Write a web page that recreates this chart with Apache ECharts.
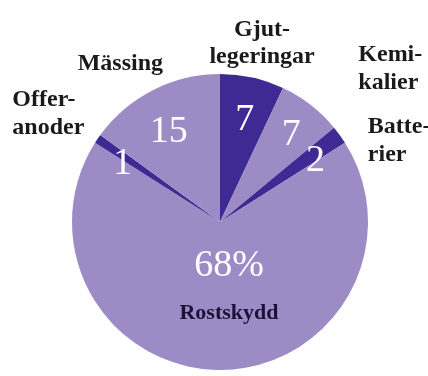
<!DOCTYPE html>
<html>
<head>
<meta charset="utf-8">
<script src="https://cdn.jsdelivr.net/npm/echarts@6/dist/echarts.min.js"></script>
<style>
  html, body { margin: 0; padding: 0; background: #ffffff; }
  #chart { width: 428px; height: 376px; }
</style>
</head>
<body>
<div id="chart"></div>
<script>
// Användning av zink, andel i procent (medurs från kl. 12)
const categories = ['Gjutlegeringar', 'Kemikalier', 'Batterier', 'Rostskydd', 'Offeranoder', 'Mässing'];
const shares = [7, 7, 2, 68, 1, 15];
// Avstavade etiketter utanför cirkeln (Rostskydd står inne i sin sektor)
const nameLabels = ['Gjut-\nlegeringar', 'Kemi-\nkalier', 'Batte-\nrier', '', 'Offer-\nanoder', 'Mässing'];

// Layout & style
const CENTER = [220, 222];
const RADIUS = 148;
const DARK = '#3e2a92';
const LIGHT = '#9d8bc6';
const sliceColors = [DARK, LIGHT, DARK, LIGHT, DARK, LIGHT];
const nameAlign = ['center', 'left', 'left', 'center', 'left', 'center'];
// small nudges [dx, dy] applied after the library places each label, in data order
const valueNudge = [[0, 8], [2, 2], [4, 5], [9, -50], [-4, 6], [0, 11]];
const nameNudge = [[0, 10], [52, -1], [23, 32], [0, 0], [-12, 0], [-12, 14]];

const SERIF = '"Liberation Serif", "DejaVu Serif", serif';

const chart = echarts.init(document.getElementById('chart'), null, { renderer: 'canvas' });

const baseData = categories.map((name, i) => ({ name, value: shares[i] }));

const option = {
  backgroundColor: '#ffffff',
  animation: false,
  series: [
    {
      // the slices
      type: 'pie',
      center: CENTER,
      radius: [0, RADIUS],
      startAngle: 90,
      clockwise: true,
      silent: true,
      avoidLabelOverlap: false,
      label: { show: false },
      labelLine: { show: false },
      emphasis: { disabled: true },
      data: baseData.map((d, i) => ({
        ...d,
        itemStyle: { color: sliceColors[i], borderWidth: 0 }
      }))
    },
    {
      // white value figures inside the slices
      type: 'pie',
      center: CENTER,
      radius: [72, RADIUS],
      startAngle: 90,
      clockwise: true,
      silent: true,
      avoidLabelOverlap: false,
      itemStyle: { color: 'rgba(0,0,0,0)', borderWidth: 0 },
      emphasis: { disabled: true },
      labelLine: { show: false },
      label: {
        show: true,
        position: 'inside',
        fontFamily: SERIF,
        formatter: (p) => p.name === 'Rostskydd'
          ? `{v|${p.value}%}\n{n|${p.name}}`
          : `{v|${p.value}}`,
        rich: {
          v: { fontFamily: SERIF, fontSize: 38, color: '#ffffff', lineHeight: 56, align: 'center' },
          n: { fontFamily: SERIF, fontSize: 22, fontWeight: 'bold', color: '#1c1238', lineHeight: 38, align: 'center' }
        }
      },
      labelLayout: (p) => ({ dx: valueNudge[p.dataIndex][0], dy: valueNudge[p.dataIndex][1] }),
      data: baseData
    },
    {
      // category names around the circle
      type: 'pie',
      center: CENTER,
      radius: [180, 200],
      startAngle: 90,
      clockwise: true,
      silent: true,
      avoidLabelOverlap: false,
      itemStyle: { color: 'rgba(0,0,0,0)', borderWidth: 0 },
      emphasis: { disabled: true },
      labelLine: { show: false },
      label: {
        show: true,
        position: 'inside',
        fontFamily: SERIF,
        formatter: (p) => {
          const txt = nameLabels[p.dataIndex];
          if (!txt) return '';
          const key = nameAlign[p.dataIndex] === 'left' ? 'l' : 'c';
          return txt.split('\n').map((line) => `{${key}|${line}}`).join('\n');
        },
        rich: {
          l: { fontFamily: SERIF, fontSize: 24, fontWeight: 'bold', color: '#1a1a1a', lineHeight: 28, align: 'left' },
          c: { fontFamily: SERIF, fontSize: 24, fontWeight: 'bold', color: '#1a1a1a', lineHeight: 27, align: 'center' }
        }
      },
      labelLayout: (p) => ({ dx: nameNudge[p.dataIndex][0], dy: nameNudge[p.dataIndex][1] }),
      data: baseData
    }
  ]
};

chart.setOption(option);
</script>
</body>
</html>
